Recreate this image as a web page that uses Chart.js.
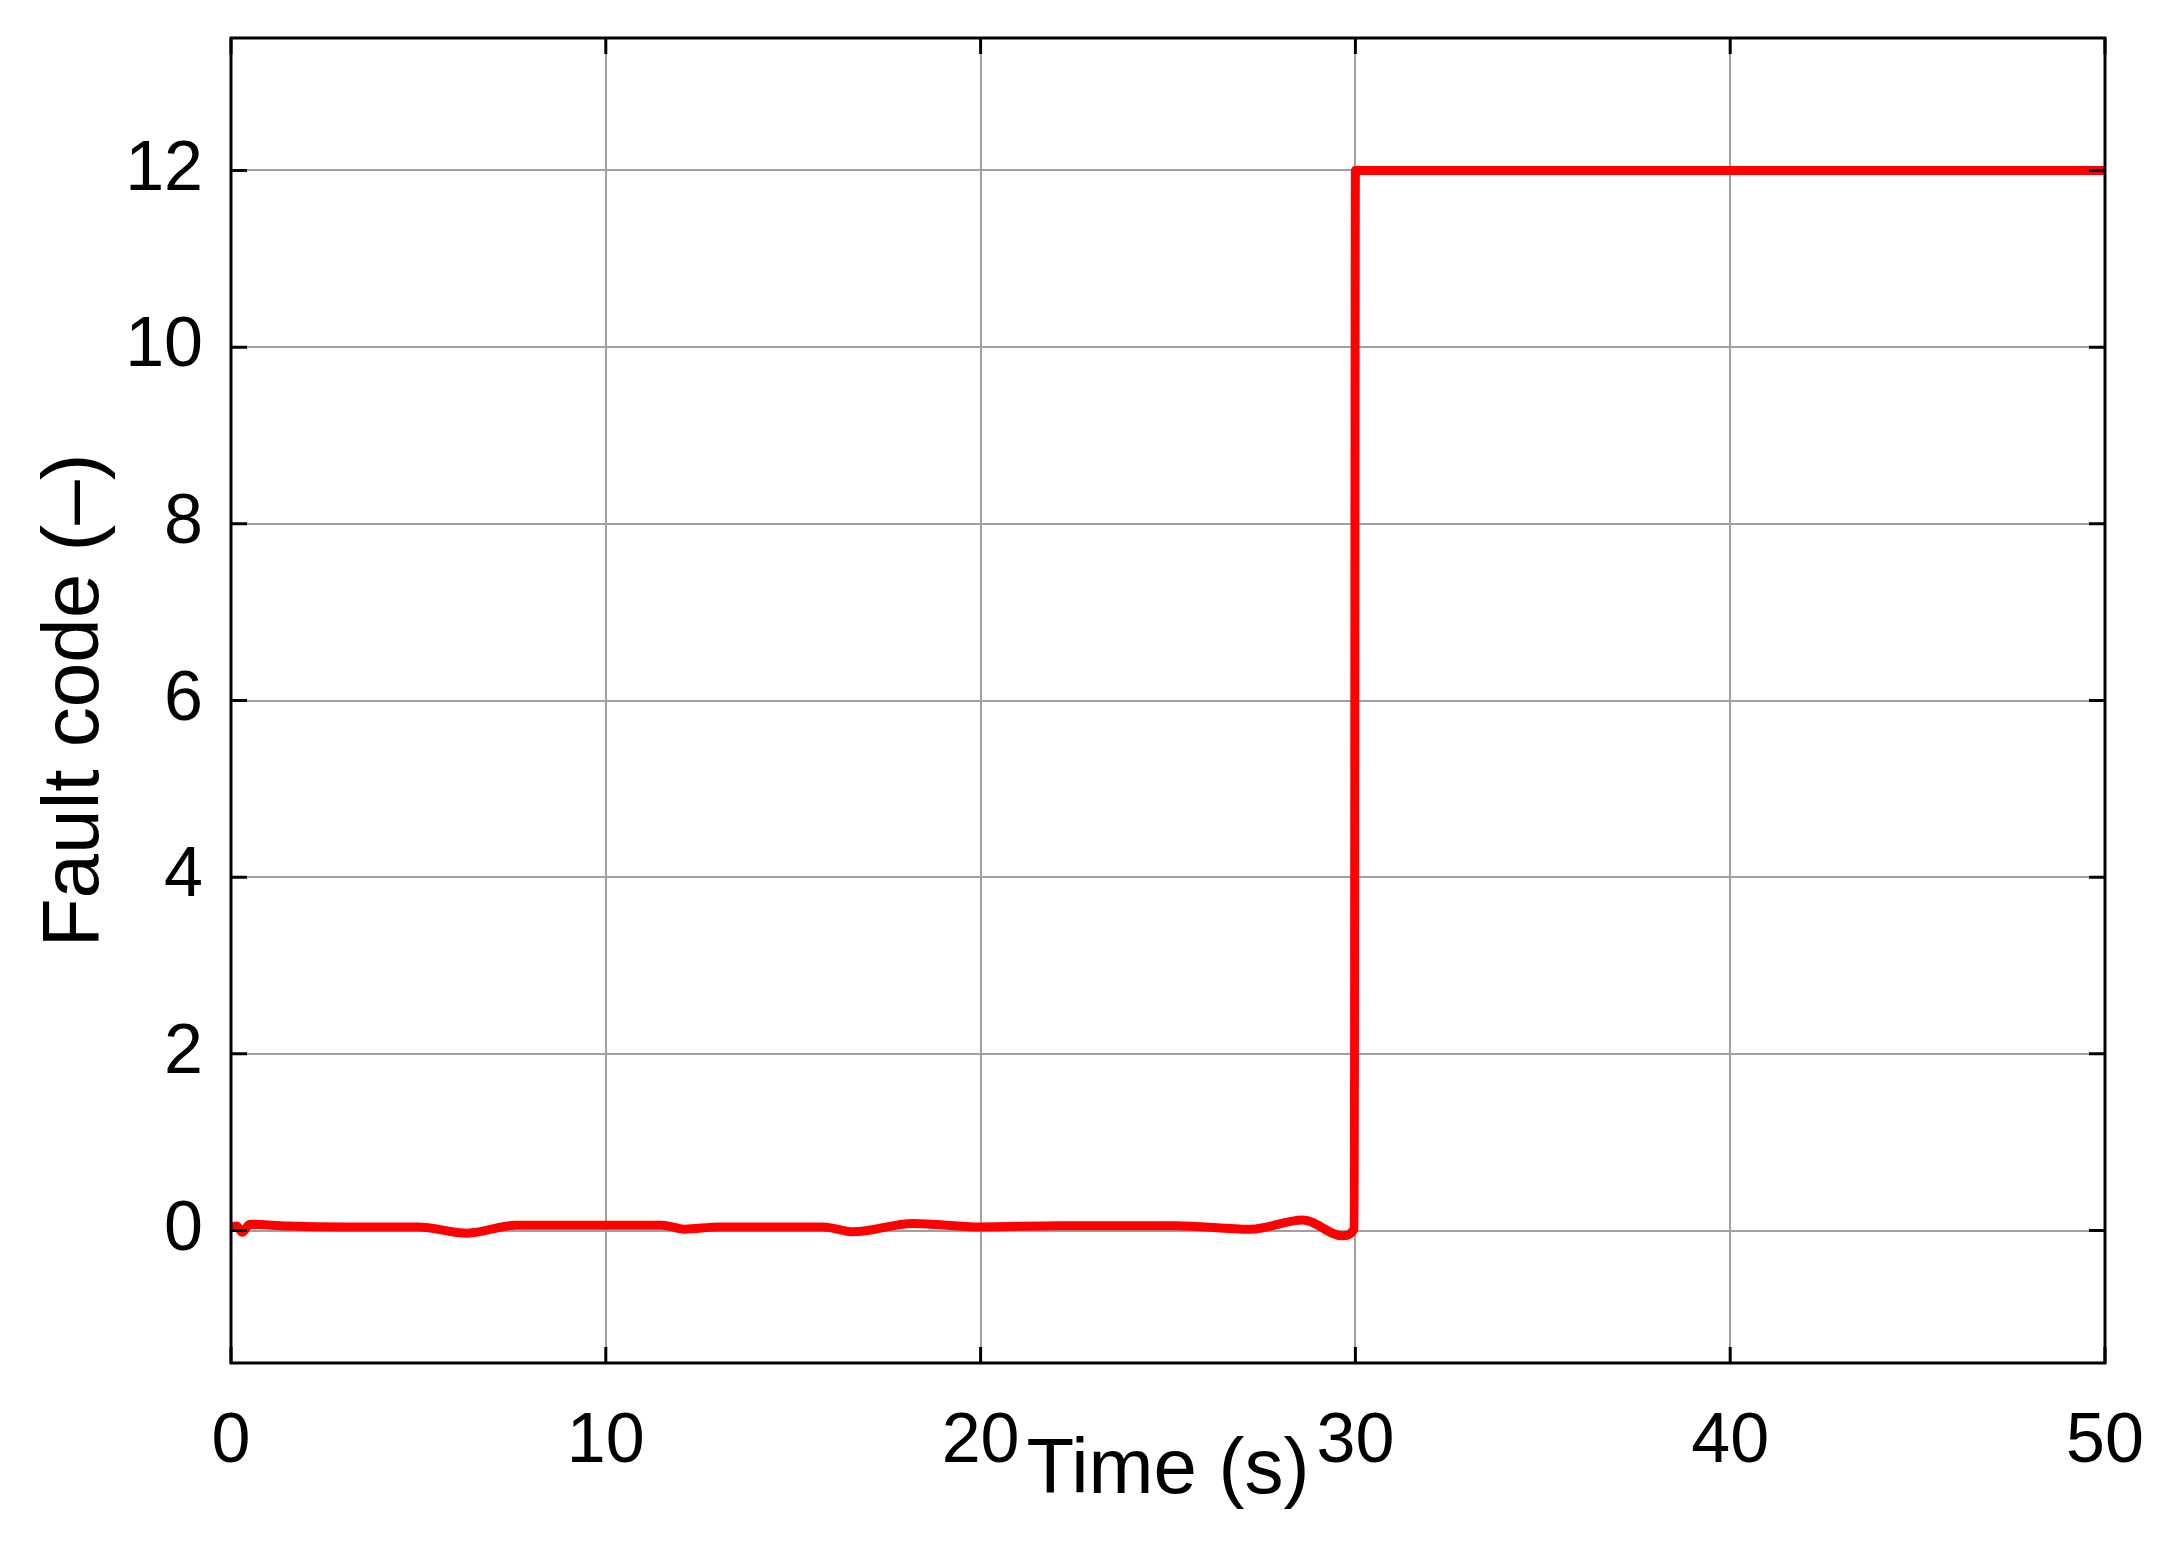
<!DOCTYPE html>
<html>
<head>
<meta charset="utf-8">
<script src="https://cdn.jsdelivr.net/npm/chart.js@4/dist/chart.umd.min.js"></script>
<style>
  body { margin: 0; background: #fff; }
  #wrap { width: 2171px; height: 1546px; }
</style>
</head>
<body>
<div id="wrap"><canvas id="faultChart" width="2171" height="1546"></canvas></div>
<script>
// values
const timeValues  = [0, 0.15, 0.3, 0.5, 1.5, 3, 5, 6.3, 7.6, 9.5, 11.5, 12.1, 13, 15.8, 16.6, 18.2, 20.0, 22.1, 25.2, 27.2, 28.6, 29.65, 29.97, 30.0, 50];
const faultValues = [0.04, 0.05, -0.02, 0.07, 0.05, 0.04, 0.04, -0.03, 0.06, 0.06, 0.06, 0.015, 0.04, 0.04, -0.015, 0.08, 0.04, 0.055, 0.055, 0.015, 0.12, -0.06, 0.02, 12, 12];
const xTicks = [0, 10, 20, 30, 40, 50];
const yTicks = [0, 2, 4, 6, 8, 10, 12];

const font = 'Liberation Sans, Arial, sans-serif';

// black box round the plot with short inward ticks on every side
const frameTicks = {
    id: 'frameTicks',
    afterDatasetsDraw(chart) {
        const { ctx, chartArea: a } = chart;
        const xs = chart.scales.x, ys = chart.scales.y;
        const len = 16;
        ctx.save();
        ctx.strokeStyle = '#000';
        ctx.lineWidth = 3;
        ctx.beginPath();
        xTicks.forEach(v => {
            const px = xs.getPixelForValue(v);
            ctx.moveTo(px, a.bottom); ctx.lineTo(px, a.bottom - len);
            ctx.moveTo(px, a.top); ctx.lineTo(px, a.top + len);
        });
        yTicks.forEach(v => {
            const py = ys.getPixelForValue(v);
            ctx.moveTo(a.left, py); ctx.lineTo(a.left + len, py);
            ctx.moveTo(a.right, py); ctx.lineTo(a.right - len, py);
        });
        ctx.stroke();
        ctx.strokeRect(a.left, a.top, a.right - a.left, a.bottom - a.top);
        ctx.restore();
    }
};

const ctx = document.getElementById('faultChart').getContext('2d');

new Chart(ctx, {
    type: 'line',
    data: {
        datasets: [{
            data: timeValues.map((t, i) => ({ x: t, y: faultValues[i] })),
            borderColor: '#ff0000',
            borderWidth: 9,
            pointRadius: 0,
            cubicInterpolationMode: 'monotone',
            fill: false
        }]
    },
    options: {
        responsive: false,
        animation: false,
        layout: { padding: { left: 0, right: 66, top: 38, bottom: 0 } },
        plugins: { legend: { display: false }, tooltip: { enabled: false } },
        scales: {
            x: {
                type: 'linear',
                min: 0,
                max: 50,
                afterBuildTicks: s => { s.ticks = xTicks.map(v => ({ value: v })); },
                afterFit: s => { s.height = 183; s.paddingLeft = 0; s.paddingRight = 0; },
                grid: { color: '#a0a0a0', lineWidth: 2, drawTicks: false },
                border: { display: false },
                ticks: { color: '#000', padding: 38, maxRotation: 0, font: { family: font, size: 70 } },
                title: {
                    display: true,
                    text: 'Time (s)',
                    color: '#000',
                    padding: { top: 0, bottom: 28 },
                    font: { family: font, size: 78 }
                }
            },
            y: {
                type: 'linear',
                min: -1.5,
                max: 13.5,
                afterBuildTicks: s => { s.ticks = yTicks.map(v => ({ value: v })); },
                afterFit: s => { s.width = 231; s.paddingTop = 0; s.paddingBottom = 0; },
                grid: { color: '#a0a0a0', lineWidth: 2, drawTicks: false },
                border: { display: false },
                ticks: { color: '#000', padding: 28, font: { family: font, size: 70 } },
                title: {
                    display: true,
                    text: 'Fault code (–)',
                    color: '#000',
                    padding: { top: 28, bottom: 0 },
                    font: { family: font, size: 80 }
                }
            }
        }
    },
    plugins: [frameTicks]
});
</script>
</body>
</html>
